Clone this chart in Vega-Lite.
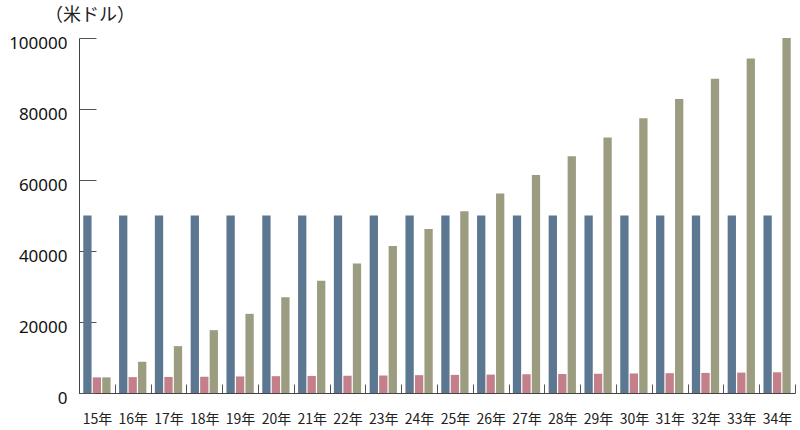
{
  "$schema": "https://vega.github.io/schema/vega-lite/v6.json",
  "width": 716,
  "height": 355,
  "autosize": {"type": "none"},
  "padding": {"left": 79, "top": 38, "right": 5, "bottom": 37},
  "background": "white",
  "config": {
    "view": {"stroke": null},
    "font": "Noto Sans CJK JP"
  },
  "data": {
    "values": [
      {"year": "15年", "s": "A", "v": 50000}, {"year": "15年", "s": "B", "v": 4400}, {"year": "15年", "s": "C", "v": 4400},
      {"year": "16年", "s": "A", "v": 50000}, {"year": "16年", "s": "B", "v": 4470}, {"year": "16年", "s": "C", "v": 8800},
      {"year": "17年", "s": "A", "v": 50000}, {"year": "17年", "s": "B", "v": 4530}, {"year": "17年", "s": "C", "v": 13200},
      {"year": "18年", "s": "A", "v": 50000}, {"year": "18年", "s": "B", "v": 4600}, {"year": "18年", "s": "C", "v": 17700},
      {"year": "19年", "s": "A", "v": 50000}, {"year": "19年", "s": "B", "v": 4670}, {"year": "19年", "s": "C", "v": 22300},
      {"year": "20年", "s": "A", "v": 50000}, {"year": "20年", "s": "B", "v": 4740}, {"year": "20年", "s": "C", "v": 27000},
      {"year": "21年", "s": "A", "v": 50000}, {"year": "21年", "s": "B", "v": 4810}, {"year": "21年", "s": "C", "v": 31600},
      {"year": "22年", "s": "A", "v": 50000}, {"year": "22年", "s": "B", "v": 4880}, {"year": "22年", "s": "C", "v": 36500},
      {"year": "23年", "s": "A", "v": 50000}, {"year": "23年", "s": "B", "v": 4960}, {"year": "23年", "s": "C", "v": 41400},
      {"year": "24年", "s": "A", "v": 50000}, {"year": "24年", "s": "B", "v": 5030}, {"year": "24年", "s": "C", "v": 46200},
      {"year": "25年", "s": "A", "v": 50000}, {"year": "25年", "s": "B", "v": 5110}, {"year": "25年", "s": "C", "v": 51200},
      {"year": "26年", "s": "A", "v": 50000}, {"year": "26年", "s": "B", "v": 5180}, {"year": "26年", "s": "C", "v": 56200},
      {"year": "27年", "s": "A", "v": 50000}, {"year": "27年", "s": "B", "v": 5260}, {"year": "27年", "s": "C", "v": 61400},
      {"year": "28年", "s": "A", "v": 50000}, {"year": "28年", "s": "B", "v": 5340}, {"year": "28年", "s": "C", "v": 66700},
      {"year": "29年", "s": "A", "v": 50000}, {"year": "29年", "s": "B", "v": 5420}, {"year": "29年", "s": "C", "v": 72000},
      {"year": "30年", "s": "A", "v": 50000}, {"year": "30年", "s": "B", "v": 5500}, {"year": "30年", "s": "C", "v": 77400},
      {"year": "31年", "s": "A", "v": 50000}, {"year": "31年", "s": "B", "v": 5580}, {"year": "31年", "s": "C", "v": 82800},
      {"year": "32年", "s": "A", "v": 50000}, {"year": "32年", "s": "B", "v": 5660}, {"year": "32年", "s": "C", "v": 88500},
      {"year": "33年", "s": "A", "v": 50000}, {"year": "33年", "s": "B", "v": 5750}, {"year": "33年", "s": "C", "v": 94200},
      {"year": "34年", "s": "A", "v": 50000}, {"year": "34年", "s": "B", "v": 5840}, {"year": "34年", "s": "C", "v": 100000}
    ]
  },
  "mark": {"type": "bar"},
  "encoding": {
    "x": {
      "field": "year",
      "type": "nominal",
      "sort": null,
      "scale": {"paddingInner": 0, "paddingOuter": 0},
      "axis": {
        "title": null,
        "labelAngle": 0,
        "labelFontSize": 14,
        "labelColor": "#222",
        "labelPadding": 28,
        "tickBand": "extent",
        "tickSize": -9,
        "tickColor": "#555",
        "domainColor": "#444",
        "labelFont": "Noto Sans CJK JP"
      }
    },
    "xOffset": {
      "field": "s",
      "type": "nominal",
      "scale": {"paddingInner": 0.126, "paddingOuter": 0.45}
    },
    "y": {
      "field": "v",
      "type": "quantitative",
      "scale": {"domain": [0, 100000], "nice": false},
      "axis": {
        "values": [0, 20000, 40000, 60000, 80000, 100000],
        "grid": false,
        "title": "（米ドル）",
        "titleAngle": 0,
        "titleX": 10.5,
        "titleY": -23,
        "titleAlign": "center",
        "titleBaseline": "middle",
        "titleFontSize": 18,
        "titleFontWeight": "normal",
        "titleColor": "#222",
        "labelFontSize": 17,
        "labelColor": "#111",
        "labelPadding": 29,
        "labelOffset": 5,
        "tickSize": -17,
        "tickColor": "#555",
        "domainColor": "#444",
        "labelFont": "Noto Sans",
        "format": "d"
      }
    },
    "color": {
      "field": "s",
      "type": "nominal",
      "scale": {"domain": ["A", "B", "C"], "range": ["#5b7791", "#c4808a", "#9c9c81"]},
      "legend": null
    }
  }
}
